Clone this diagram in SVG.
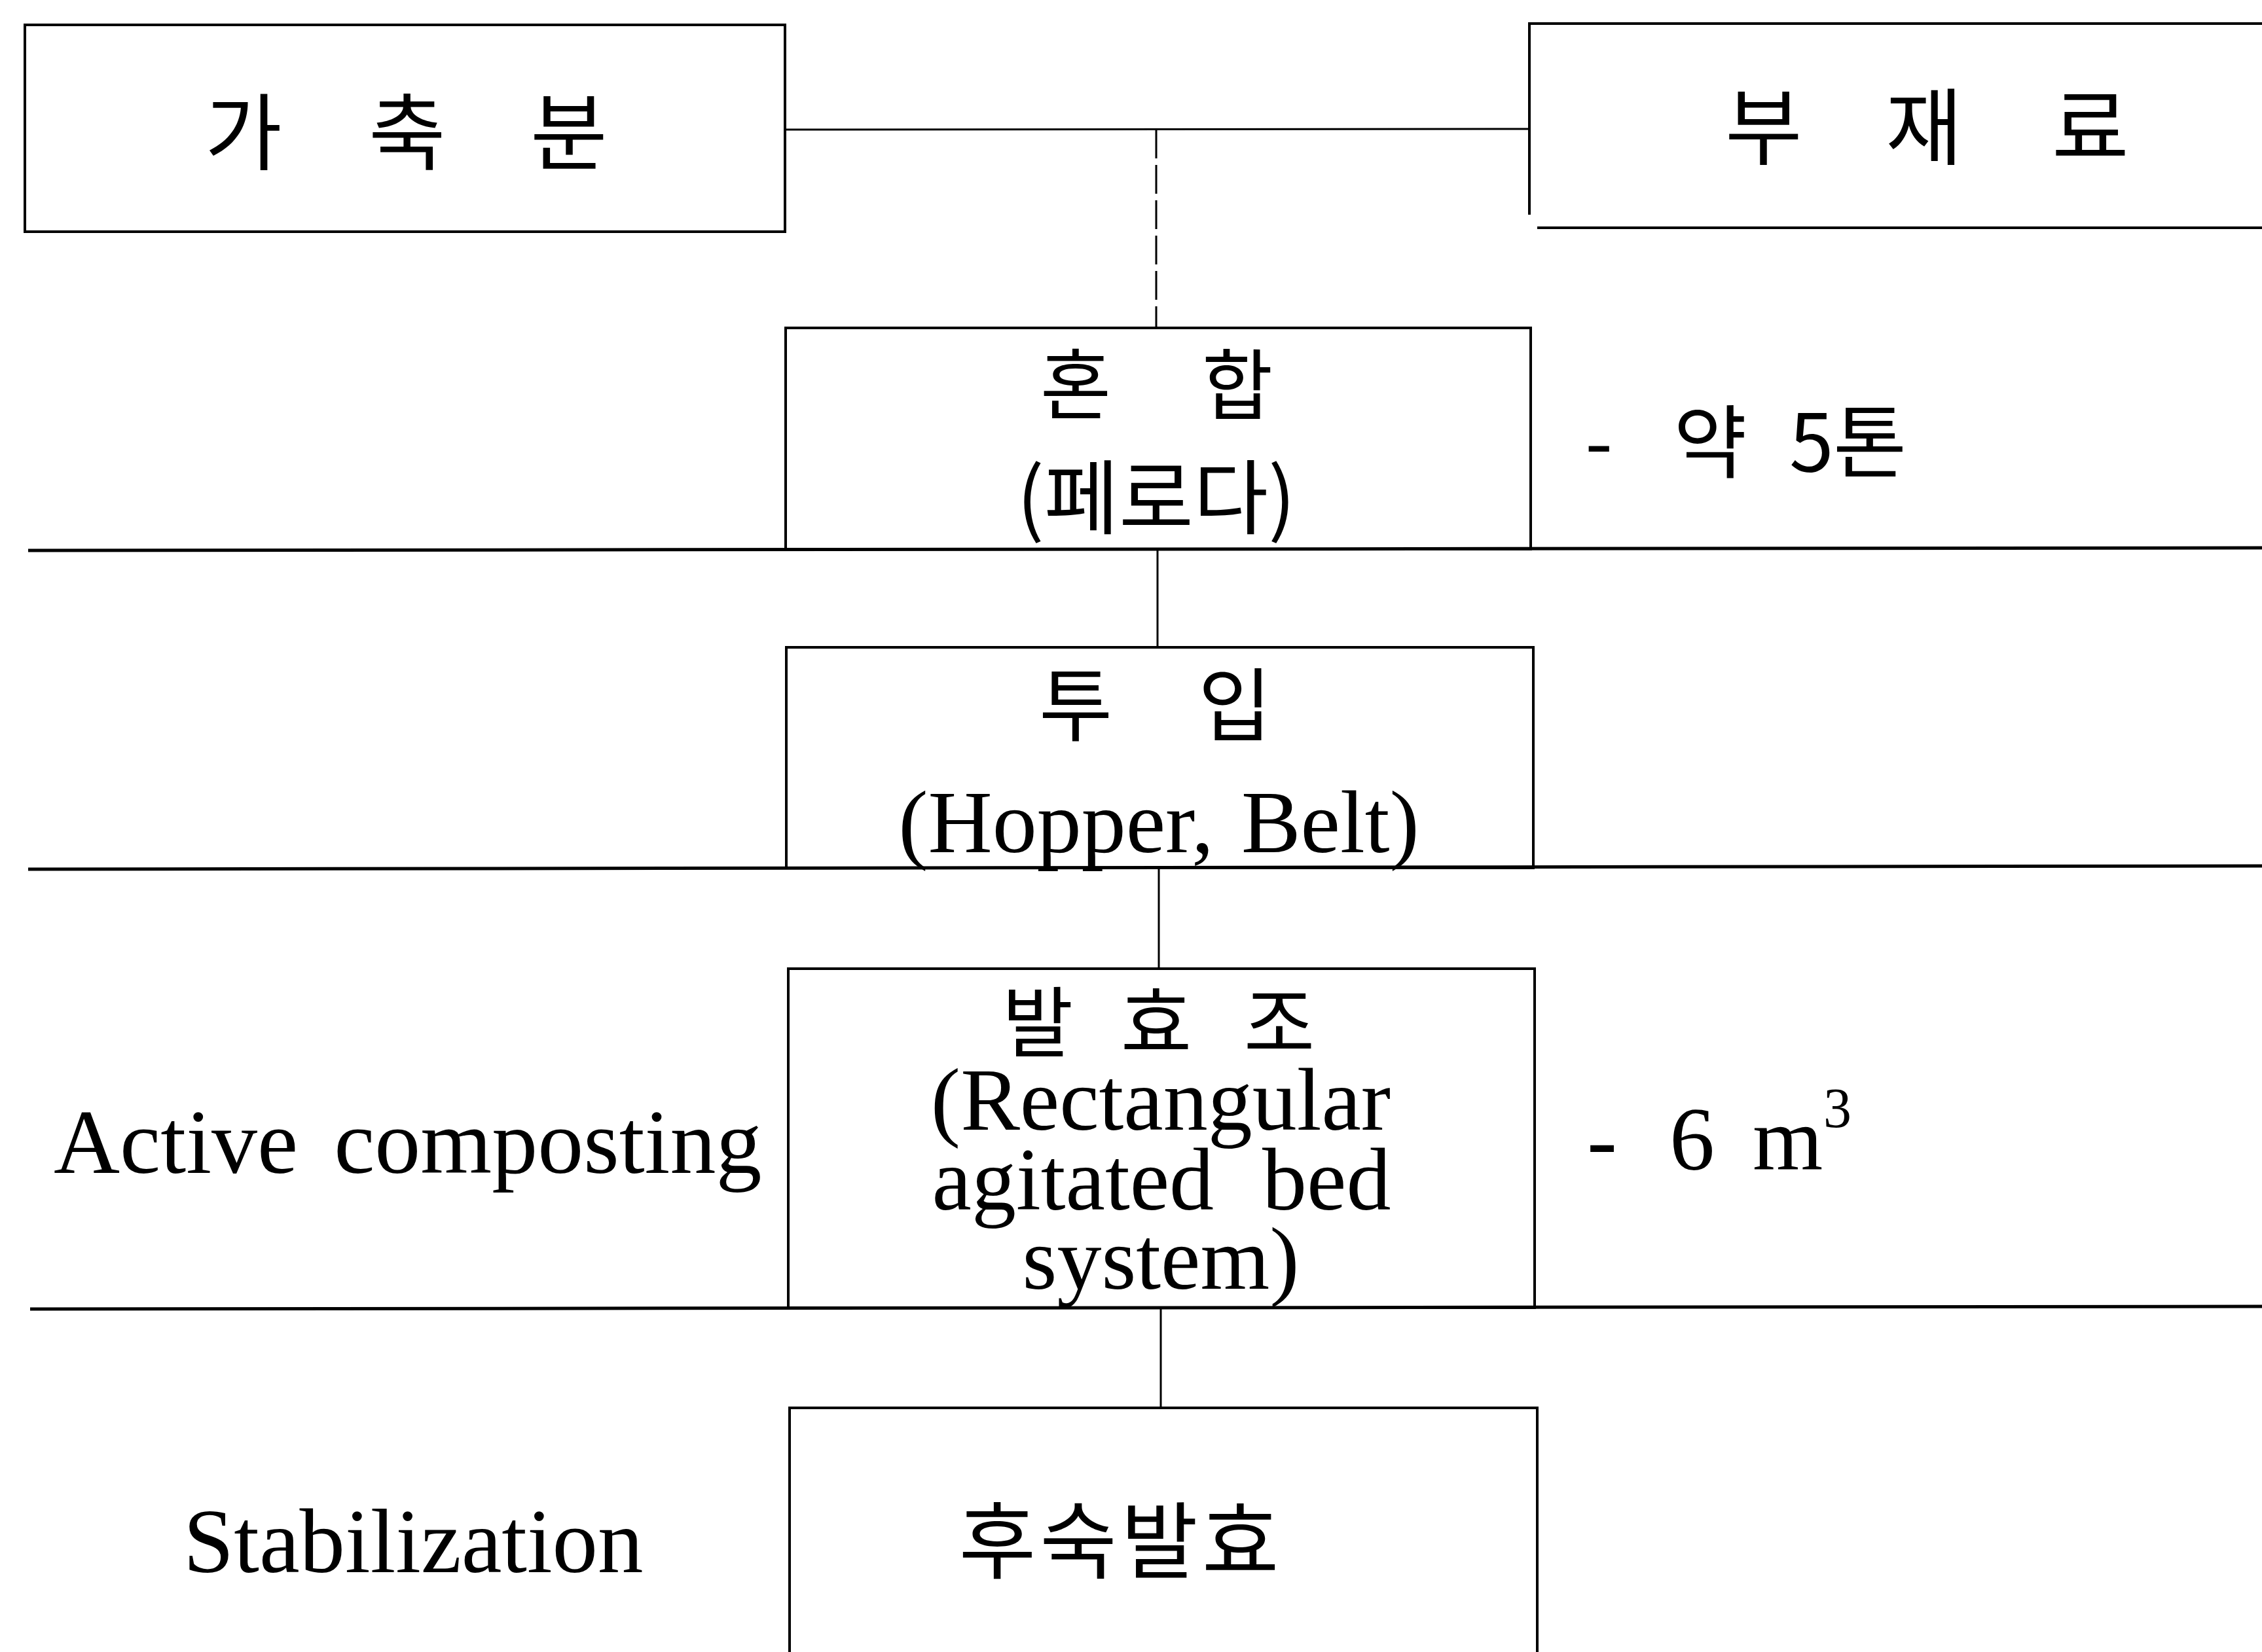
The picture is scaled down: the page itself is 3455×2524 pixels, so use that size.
<svg xmlns="http://www.w3.org/2000/svg" width="3455" height="2524" viewBox="0 0 3455 2524">
  <style>
    .box { fill: none; stroke: #000; stroke-width: 4; }
    .sep { fill: none; stroke: #000; stroke-width: 5; }
    .link { fill: none; stroke: #000; stroke-width: 3; }
    .dash { stroke-dasharray: 44 10; }
    .ko { font-family: "Noto Sans CJK KR", "Noto Sans", sans-serif; fill: #000; }
    .en { font-family: "Liberation Serif", "Times New Roman", serif; fill: #000; }
  </style>
  <rect width="3455" height="2524" fill="#fff"/>

  <!-- stage separators -->
  <g id="separators">
    <line class="sep" x1="43" y1="841" x2="3455" y2="837"/>
    <line class="sep" x1="43" y1="1328" x2="3455" y2="1323"/>
    <line class="sep" x1="46" y1="2000" x2="3455" y2="1996"/>
  </g>

  <!-- flow connectors -->
  <g id="connectors">
    <line class="link" x1="1199" y1="198" x2="2336" y2="197"/>
    <line class="link dash" x1="1766" y1="198" x2="1766" y2="501"/>
    <line class="link" x1="1768" y1="839" x2="1768" y2="989"/>
    <line class="link" x1="1770" y1="1326" x2="1770" y2="1480"/>
    <line class="link" x1="1773" y1="1998" x2="1773" y2="2151"/>
  </g>

  <g id="node-manure">
    <rect class="box" x="38" y="38" width="1161" height="316"/>
    <text class="ko" font-size="128" text-anchor="middle" x="372 500 622 745 869" y="250">가 축 분</text>
  </g>

  <g id="node-additive">
    <path class="box" d="M3460,36 H2336 V328"/>
    <path class="box" d="M2348,348 H3460"/>
    <text class="ko" font-size="128" text-anchor="middle" x="2694 2816 2939 3066 3193" y="242">부 재 료</text>
  </g>

  <g id="node-mixing">
    <rect class="box" x="1200" y="501" width="1138" height="338"/>
    <text class="ko" font-size="118" text-anchor="middle" x="1643 1766 1890" y="632">혼 합</text>
    <text class="ko" font-size="124" text-anchor="middle" x="1766" y="806">(페로다)</text>
    <text class="ko" font-size="122" x="2421 2480 2556 2680 2733 2800" y="720">- 약 5톤</text>
  </g>

  <g id="node-feeding">
    <rect class="box" x="1201" y="989" width="1141" height="337"/>
    <text class="ko" font-size="122" text-anchor="middle" x="1643 1765 1886" y="1122">투 입</text>
    <text class="en" font-size="136" text-anchor="middle" x="1770" y="1302" word-spacing="8">(Hopper, Belt)</text>
  </g>

  <g id="node-fermenter">
    <rect class="box" x="1204" y="1480" width="1140" height="518"/>
    <text class="ko" font-size="118" text-anchor="middle" x="1585 1676 1766 1858 1954" y="1606">발 효 조</text>
    <text class="en" font-size="136" text-anchor="middle" x="1773" y="1726">(Rectangular</text>
    <text class="en" font-size="136" text-anchor="middle" x="1774" y="1848" word-spacing="40">agitated bed</text>
    <text class="en" font-size="136" text-anchor="middle" x="1773" y="1969">system)</text>
    <text class="en" font-size="140" x="82" y="1792" word-spacing="20">Active composting</text>
    <text class="en" font-size="138" y="1787"><tspan x="2424">- </tspan><tspan x="2550">6 </tspan><tspan x="2677">m</tspan><tspan x="2785" y="1722" font-size="86">3</tspan></text>
  </g>

  <g id="node-curing">
    <path class="box" d="M1206,2530 V2151 H2348 V2530"/>
    <text class="ko" font-size="128" text-anchor="middle" letter-spacing="6" x="1712" y="2402">후숙발효</text>
    <text class="en" font-size="139" x="280" y="2402">Stabilization</text>
  </g>
</svg>
